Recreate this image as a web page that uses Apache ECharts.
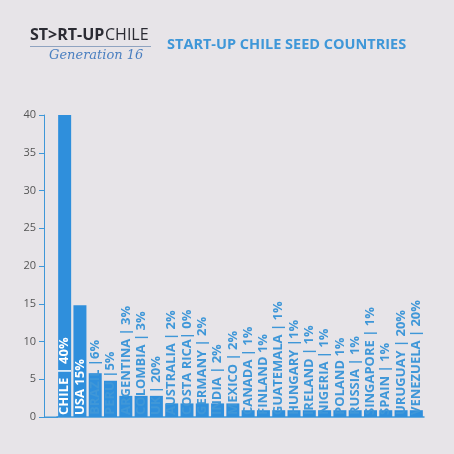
<!DOCTYPE html><html><head><meta charset="utf-8">
<script src="https://cdn.jsdelivr.net/npm/echarts@6/dist/echarts.min.js"></script>
<style>body{margin:0;background:#e7e4e8}#c{width:454px;height:454px}</style></head><body><div id="c"></div>
<script>
const categories=["CHILE | 40%","USA 15%","BRAZIL |6%","PERU |5%","ARGENTINA | 3%","COLOMBIA | 3%","UK | 20%","AUSTRALIA | 2%","COSTA RICA| 0%","GERMANY | 2%","INDIA | 2%","MEXICO | 2%","CANADA | 1%","FINLAND 1%","GUATEMALA | 1%","HUNGARY |1%","IRELAND | 1%","NIGERIA | 1%","POLAND 1%","RUSSIA | 1%","SINGAPORE | 1%","SPAIN | 1%","URUGUAY | 20%","VENEZUELA | 20%"];
const values=[40,14.8,5.8,4.8,2.8,2.8,2.8,1.8,1.8,1.8,1.8,1.8,0.9,0.9,0.9,0.9,0.9,0.9,0.9,0.9,0.9,0.9,0.9,0.9];
const chart=echarts.init(document.getElementById('c'));
chart.setOption({
backgroundColor:'#e7e4e8',
grid:{left:57,right:30,top:115,bottom:37},
graphic:[
{type:'text',left:30,top:27,style:{text:'ST>RT-UP',font:'bold 16px "Open Sans"',fill:'#2b2b33'}},
{type:'text',left:105,top:27,style:{text:'CHILE',font:'16px "Open Sans"',fill:'#2b2b33'}},
{type:'rect',shape:{x:30,y:46,width:121,height:1},style:{fill:'#8fa3c0'}},
{type:'text',left:49,top:49,style:{text:'Generation 16',font:'italic 13px "DejaVu Serif", serif',fill:'#4a7fc0'}},
{type:'text',left:167,top:37,style:{text:'START-UP CHILE SEED COUNTRIES',font:'bold 14.5px "Open Sans"',fill:'#3f97d8'}},
{type:'rect',shape:{x:44,y:416.5,width:14,height:1.5},style:{fill:'#3f97d8'}}
],
xAxis:{type:'category',data:categories,axisLabel:{show:false},axisTick:{show:false},axisLine:{lineStyle:{color:'#3f97d8',width:1.5}}},
yAxis:{type:'value',min:0,max:40,interval:5,offset:13,splitLine:{show:false},axisLine:{show:true,lineStyle:{color:'#3f97d8'}},axisTick:{show:true,length:5,lineStyle:{color:'#3f97d8'}},axisLabel:{color:'#555',fontSize:11,fontFamily:'Open Sans'}},
series:[{type:'bar',data:values.map((v,i)=>({value:v,label:{color:i<2?'#fff':'#3f97d8'}})),barCategoryGap:'15%',itemStyle:{color:'#2f8fdc'},
label:{show:true,formatter:p=>categories[p.dataIndex],position:'insideBottom',rotate:90,align:'left',verticalAlign:'middle',distance:2,fontSize:13,fontWeight:'bold',fontFamily:'Open Sans'}}]
});
</script></body></html>
